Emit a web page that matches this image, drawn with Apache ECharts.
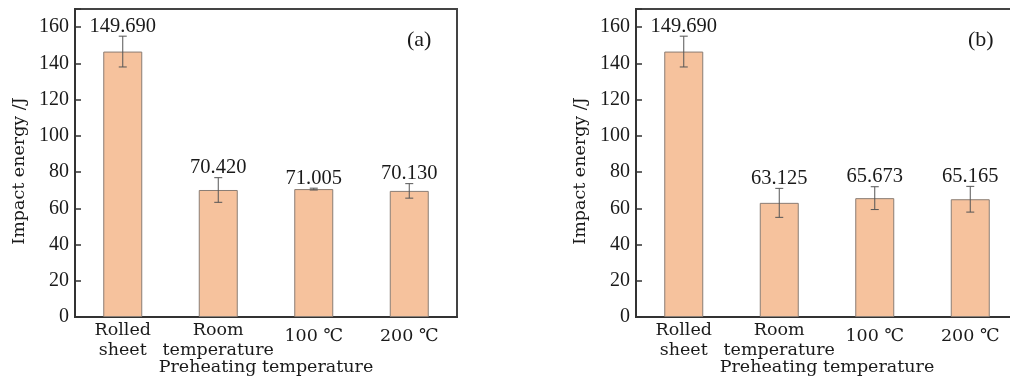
<!DOCTYPE html>
<html>
<head>
<meta charset="utf-8">
<script src="https://cdn.jsdelivr.net/npm/echarts@6/dist/echarts.min.js"></script>
<style>
  html, body { margin: 0; padding: 0; background: #fff; }
  #chart { width: 1010px; height: 380px; }
</style>
</head>
<body>
<div id="chart"></div>
<script>
// categories on the x axis
var categories = ['Rolled\nsheet', 'Room\ntemperature', '100 ℃', '200 ℃'];
var yTicks = { min: 0, max: 170, interval: 20 };

// panel (a)
var valuesA = [146.5, 70.1, 70.6, 69.6];
var errorsA = [8.5, 6.8, 0.5, 4.0];
var labelsA = ['149.690', '70.420', '71.005', '70.130'];

// panel (b)
var valuesB = [146.5, 63.0, 65.6, 65.0];
var errorsB = [8.5, 8.0, 6.3, 7.1];
var labelsB = ['149.690', '63.125', '65.673', '65.165'];

var panelTags = ['(a)', '(b)'];

var wordFont = 'DejaVu Serif';
var numFont = 'Liberation Serif';
var ink = '#1a1a1a';

var chart = echarts.init(document.getElementById('chart'), null, { renderer: 'canvas' });

function catData() {
    return categories.map(function (c) {
        // single-line labels sit lower, between the two lines of the others
        if (c.indexOf('\n') < 0) return { value: c, textStyle: { lineHeight: 32 } };
        return c;
    });
}

function xAxisFor(idx) {
    return {
        type: 'category',
        gridIndex: idx,
        data: catData(),
        name: 'Preheating temperature',
        nameLocation: 'middle',
        nameGap: 41,
        nameMoveOverlap: false,
        nameTextStyle: { fontFamily: wordFont, fontSize: 17.5, color: ink },
        axisLine: { lineStyle: { color: '#333', width: 2 } },
        axisTick: { inside: true, alignWithLabel: true, length: 6, lineStyle: { color: '#333', width: 1.5 } },
        axisLabel: { fontFamily: wordFont, fontSize: 17.5, color: ink, lineHeight: 20, margin: 3, interval: 0 }
    };
}

function yAxisFor(idx) {
    return {
        type: 'value',
        gridIndex: idx,
        min: yTicks.min,
        max: yTicks.max,
        interval: yTicks.interval,
        name: 'Impact energy /J',
        nameLocation: 'middle',
        nameGap: 47,
        nameMoveOverlap: false,
        // pushes the rotated title a little lower, as in the source
        nameTextStyle: { fontFamily: wordFont, fontSize: 17.5, color: ink, padding: [0, 16, 0, 0] },
        splitLine: { show: false },
        axisLine: { show: true, lineStyle: { color: '#333', width: 2 } },
        axisTick: { show: true, inside: true, length: 6, lineStyle: { color: '#333', width: 1.5 } },
        axisLabel: {
            fontFamily: numFont, fontSize: 20, color: ink, margin: 6,
            formatter: function (v) { return v > 160 ? '' : v; }
        }
    };
}

function barSeries(idx, values) {
    return {
        type: 'bar',
        xAxisIndex: idx,
        yAxisIndex: idx,
        data: values,
        barWidth: 39,
        itemStyle: { color: '#f6c29d', borderColor: '#8a7d74', borderWidth: 1 },
        z: 2
    };
}

function errSeries(idx, values, errors, labels) {
    return {
        type: 'custom',
        xAxisIndex: idx,
        yAxisIndex: idx,
        z: 5,
        data: values.map(function (v, i) { return [i, v, errors[i]]; }),
        renderItem: function (params, api) {
            var i = api.value(0), v = api.value(1), e = api.value(2);
            var top = api.coord([i, v + e]);
            var bot = api.coord([i, v - e]);
            var cap = 4;
            var st = { stroke: '#555', lineWidth: 1 };
            return {
                type: 'group',
                children: [
                    { type: 'line', shape: { x1: top[0], y1: top[1], x2: bot[0], y2: bot[1] }, style: st },
                    { type: 'line', shape: { x1: top[0] - cap, y1: top[1], x2: top[0] + cap, y2: top[1] }, style: st },
                    { type: 'line', shape: { x1: bot[0] - cap, y1: bot[1], x2: bot[0] + cap, y2: bot[1] }, style: st },
                    {
                        type: 'text',
                        style: {
                            text: labels[params.dataIndex],
                            x: top[0], y: top[1] + 0.5,
                            textAlign: 'center', textVerticalAlign: 'bottom',
                            font: '20.5px "' + numFont + '"', fill: ink
                        }
                    }
                ]
            };
        }
    };
}

var grids = [
    { left: 75, top: 9, width: 382, height: 308 },
    { left: 636, top: 9, right: -8, height: 308 }
];
grids.forEach(function (g) {
    g.show = true;
    g.borderColor = '#444';
    g.borderWidth = 2;
    g.backgroundColor = 'transparent';
    g.outerBoundsMode = 'none';
    g.containLabel = false;
});

var option = {
    backgroundColor: '#fff',
    animation: false,
    grid: grids,
    xAxis: [xAxisFor(0), xAxisFor(1)],
    yAxis: [yAxisFor(0), yAxisFor(1)],
    series: [
        barSeries(0, valuesA), errSeries(0, valuesA, errorsA, labelsA),
        barSeries(1, valuesB), errSeries(1, valuesB, errorsB, labelsB)
    ],
    graphic: panelTags.map(function (t, i) {
        return {
            type: 'text',
            left: 75 + 561 * i + 382 - 50,
            top: 29,
            style: { text: t, font: '22px "' + numFont + '"', fill: ink }
        };
    })
};

echartExtendSet(chart, option);

function echartExtendSet(obj, opt) {
    obj.setOption(opt);
}
</script>
</body>
</html>
